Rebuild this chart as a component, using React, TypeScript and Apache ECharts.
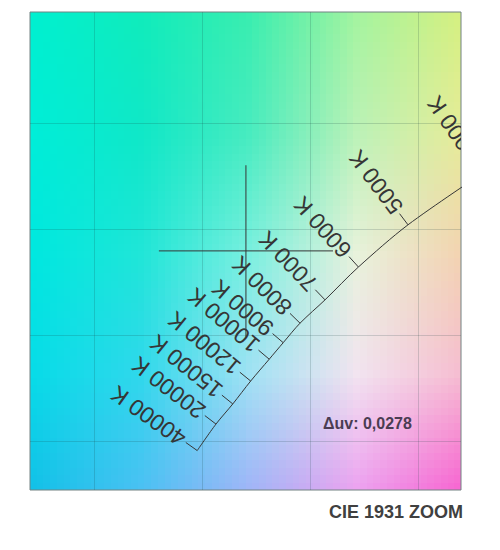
import React, { useEffect, useRef } from "react";
import * as echarts from "echarts";

// ---- data ----
const temperatureLabels = ["40000 K", "20000 K", "15000 K", "12000 K", "10000 K", "9000 K", "8000 K", "7000 K", "6000 K", "5000 K", "4000 K"];
const locusX = [0.2476, 0.2563, 0.2641, 0.2724, 0.281, 0.2875, 0.2953, 0.3069, 0.3224, 0.3454, 0.3805];
const locusY = [0.2456, 0.2581, 0.2676, 0.2784, 0.2887, 0.2965, 0.3057, 0.3167, 0.3322, 0.3521, 0.3768];
const xGridValues = [0.2, 0.25, 0.3, 0.35];
const yGridValues = [0.25, 0.3, 0.35, 0.4];
const measuredPoint = [0.2702, 0.3398];
const crossArm = 0.0404;
const deltaUvText = "Δuv: 0,0278";
const titleText = "CIE 1931 ZOOM";

// background colour control grid (rows top -> bottom, cols left -> right), placed on plot edges
const bgColors = [
  ["#00f0d0", "#10ecbc", "#3aeeb0", "#a4f4a0", "#d8f080"],
  ["#00eed8", "#10e8c8", "#48ecc0", "#bcf2b8", "#e8ec98"],
  ["#00e8e0", "#20e6d8", "#7af0e0", "#e8f2dc", "#f4d2b0"],
  ["#08dce8", "#30d8ec", "#a0e2f4", "#f2e4f0", "#f6bcd0"],
  ["#14c0e8", "#4cc0f4", "#a0b4f8", "#eca0f0", "#f860d0"],
];

const GRID = { left: 30, top: 12, width: 431, height: 478 };

function makeBackground(): string {
  const n = bgColors.length;
  const m = bgColors[0].length;
  const small = document.createElement("canvas");
  small.width = m;
  small.height = n;
  const sctx = small.getContext("2d")!;
  bgColors.forEach((row, j) =>
    row.forEach((c, i) => {
      sctx.fillStyle = c;
      sctx.fillRect(i, j, 1, 1);
    })
  );
  const big = document.createElement("canvas");
  big.width = GRID.width;
  big.height = GRID.height;
  const bctx = big.getContext("2d")!;
  bctx.imageSmoothingEnabled = true;
  (bctx as any).imageSmoothingQuality = "low";
  bctx.drawImage(small, 0.5, 0.5, m - 1, n - 1, 0, 0, GRID.width, GRID.height);
  return big.toDataURL();
}

export default function App() {
  const ref = useRef<HTMLDivElement>(null);

  useEffect(() => {
    document.body.style.margin = "0";
    if (!ref.current) return;
    const chart = echarts.init(ref.current, undefined, { renderer: "svg" });
    const locusData = locusX.map((x, i) => [x, locusY[i]]);
    const nPts = locusData.length;
    const labelFont = '23px "Liberation Sans", Arial, sans-serif';
    const ink = "#363636";

    const option: any = {
      animation: false,
      grid: {
        left: GRID.left,
        top: GRID.top,
        width: GRID.width,
        height: GRID.height,
        show: true,
        backgroundColor: "transparent",
        borderColor: "#728282",
        borderWidth: 1,
      },
      xAxis: {
        type: "value",
        min: 0.17,
        max: 0.37,
        show: false,
        splitLine: { show: false },
      },
      yAxis: {
        type: "value",
        min: 0.227,
        max: 0.4525,
        show: false,
        splitLine: { show: false },
      },
      graphic: [
        {
          type: "image",
          x: GRID.left,
          y: GRID.top,
          z: -10,
          silent: true,
          style: { image: makeBackground(), width: GRID.width, height: GRID.height },
        },
        {
          type: "text",
          x: 323,
          y: 423,
          z: 10,
          style: {
            text: deltaUvText,
            fill: "#4a3d52",
            font: 'bold 16px "Liberation Sans", Arial, sans-serif',
            align: "left",
            verticalAlign: "middle",
          },
        },
        {
          type: "text",
          x: 463,
          y: 512,
          z: 10,
          style: {
            text: titleText,
            fill: "#404040",
            font: 'bold 18px "Liberation Sans", Arial, sans-serif',
            align: "right",
            verticalAlign: "middle",
          },
        },
      ],
      series: [
        {
          type: "line",
          name: "grid",
          data: [],
          silent: true,
          markLine: {
            silent: true,
            symbol: ["none", "none"],
            label: { show: false },
            lineStyle: { color: "rgba(20,60,60,0.18)", type: "solid", width: 1 },
            data: [
              ...xGridValues.map((v) => ({ xAxis: v })),
              ...yGridValues.map((v) => ({ yAxis: v })),
            ],
          },
        },
        {
          type: "line",
          name: "locus",
          data: locusData,
          showSymbol: false,
          smooth: 0.3,
          silent: true,
          lineStyle: { color: ink, width: 1 },
          z: 3,
        },
        {
          type: "line",
          name: "crossH",
          data: [
            [measuredPoint[0] - crossArm, measuredPoint[1]],
            [measuredPoint[0] + crossArm, measuredPoint[1]],
          ],
          showSymbol: false,
          silent: true,
          lineStyle: { color: ink, width: 1 },
          z: 3,
        },
        {
          type: "line",
          name: "crossV",
          data: [
            [measuredPoint[0], measuredPoint[1] - crossArm],
            [measuredPoint[0], measuredPoint[1] + crossArm],
          ],
          showSymbol: false,
          silent: true,
          lineStyle: { color: ink, width: 1 },
          z: 3,
        },
        {
          type: "custom",
          name: "ticks",
          data: locusData,
          clip: true,
          silent: true,
          z: 4,
          encode: { x: 0, y: 1 },
          renderItem: (params: any, api: any) => {
            const i = params.dataIndex;
            const p = api.coord(locusData[i]);
            const a = api.coord(locusData[Math.max(i - 1, 0)]);
            const b = api.coord(locusData[Math.min(i + 1, nPts - 1)]);
            let tx = b[0] - a[0];
            let ty = b[1] - a[1];
            const len = Math.hypot(tx, ty) || 1;
            tx /= len;
            ty /= len;
            const nx = ty;
            const ny = -tx;
            const tickLen = 14;
            const gap = 3;
            const angle = Math.atan2(-ny, nx);
            return {
              type: "group",
              children: [
                {
                  type: "line",
                  shape: { x1: p[0], y1: p[1], x2: p[0] + nx * tickLen, y2: p[1] + ny * tickLen },
                  style: { stroke: ink, lineWidth: 1 },
                },
                {
                  type: "text",
                  x: p[0] + nx * (tickLen + gap),
                  y: p[1] + ny * (tickLen + gap),
                  rotation: angle,
                  style: {
                    text: temperatureLabels[i],
                    fill: ink,
                    font: labelFont,
                    align: "left",
                    verticalAlign: "middle",
                  },
                },
              ],
            };
          },
        },
      ],
    };
    chart.setOption(option);
    return () => chart.dispose();
  }, []);

  return <div ref={ref} style={{ width: 500, height: 550 }} />;
}
